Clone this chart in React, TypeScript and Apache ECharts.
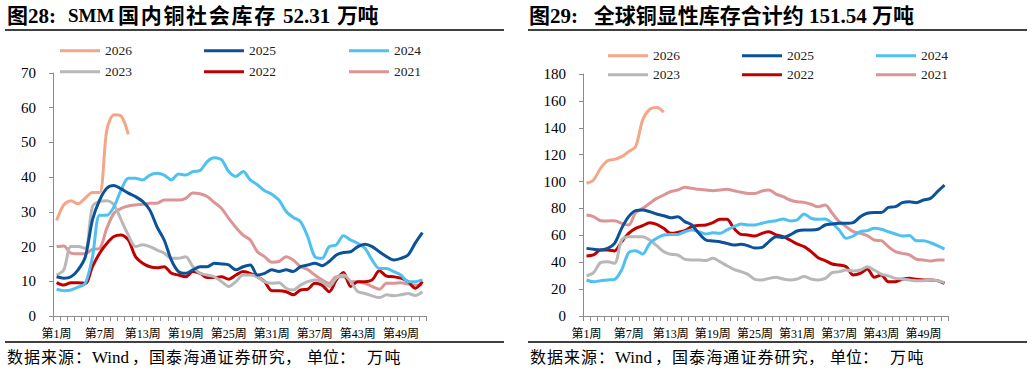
import React, { useEffect, useRef } from "react";
import * as echarts from "echarts";

const weeks: string[] = Array.from({ length: 52 }, (_, i) => `第${i + 1}周`);
const years = ["2026", "2025", "2024", "2023", "2022", "2021"];
const colors = ["#F4A686", "#0B5299", "#4FC1F0", "#B8B8B8", "#C00000", "#DC9595"];

// SMM domestic copper social inventory (万吨)
const smm2026 = [27.5, 32, 33.2, 32.3, 34, 35.6, 35.6, 53.5, 58, 57.6, 52.31];
const smm2025 = [11.3, 10.9, 11.3, 13.3, 17, 27.7, 33.4, 36.8, 37.6, 36.6, 35.4, 34.4, 33, 30.5, 25.7, 21.9, 16.1, 12.8, 12.3, 13.3, 14.2, 14.2, 15.2, 15, 14.7, 13.3, 14.2, 14.7, 11.8, 12.3, 13.3, 12.8, 13.3, 12.8, 14.2, 14.7, 15.2, 14.5, 15.7, 17.6, 18.3, 18.5, 20, 20.7, 20, 18.5, 17.1, 16.1, 16.6, 17.6, 21, 24];
const smm2024 = [7.7, 7.3, 7.5, 8.3, 9.4, 17, 29, 29, 31.5, 36.3, 39.7, 39.7, 39.2, 40.6, 41.1, 40.6, 39.2, 40.9, 40.6, 41.6, 41.9, 44.5, 45.6, 45, 41.6, 40.2, 41.6, 39.2, 37.8, 36.1, 35.1, 33.4, 30.1, 28.4, 27.2, 22.9, 17.1, 16.6, 20, 20.5, 23.1, 21.9, 20.9, 19.5, 16.1, 13.7, 13.7, 12.8, 11.8, 9.9, 9.9, 10.4];
const smm2023 = [11.8, 13.3, 20, 20, 19.5, 31.5, 33, 33.2, 32, 27.7, 23.3, 20, 20.5, 20, 19, 18.1, 16.6, 16.6, 17.1, 14.2, 12.3, 11.8, 11.3, 9.9, 8.5, 9.9, 11.8, 11.8, 11.3, 9.9, 9.4, 9.6, 8, 7.5, 8.9, 9.9, 10.4, 9.9, 8.5, 10.9, 11.8, 9.9, 7, 6.5, 5.8, 5.3, 6.1, 5.8, 6.1, 6.5, 5.9, 7];
const smm2022 = [9.6, 8.9, 9.6, 9.6, 9.4, 14.2, 18.1, 20.9, 22.9, 23.3, 21.9, 17.1, 15.2, 14.2, 13.9, 14.2, 12.3, 11.8, 11.3, 12.8, 12.3, 11.1, 11.1, 11.3, 10.6, 11.8, 12.8, 12.3, 11.3, 9.9, 7.3, 7.3, 7, 6.1, 7.5, 7.7, 9.4, 8.9, 7, 10.4, 12.5, 8.5, 9.9, 9.9, 10.4, 13, 11.5, 11.3, 10.9, 9.9, 8, 9.9];
const smm2021 = [20, 20.2, 18.1, 17.9, 17.9, 19.2, 19.5, 25.3, 29.6, 31, 31.7, 32, 32.2, 32.5, 32.5, 33.4, 33.4, 33.4, 33.9, 35.4, 35.2, 34.4, 32.7, 31, 28.1, 25.5, 23.3, 21.9, 18.5, 17.1, 15.5, 15.7, 17.1, 16.1, 14.2, 13.4, 11.8, 10.4, 9.4, 11.3, 11.3, 9.9, 9.9, 9.4, 8.5, 7.7, 9.4, 9.4, 9.6, 9.2, 8.9, 8.9];

// Global visible copper inventory (万吨)
const glb2026 = [98.7, 101.2, 109.8, 115.5, 116.5, 118.5, 122.2, 126, 145.8, 153.7, 155, 151.54];
const glb2025 = [50.3, 49.6, 49.1, 50.3, 54, 65.2, 73.9, 78.4, 78.8, 77.6, 75.9, 74.6, 73.1, 73.9, 70.2, 67.7, 61.5, 56.5, 55.8, 55.3, 54, 52.8, 53.3, 52.3, 50.5, 51, 55.3, 59, 58.3, 60.3, 63.2, 64, 64, 64.5, 67.7, 68.4, 68.9, 68.9, 69.4, 73.9, 76.4, 76.9, 76.9, 80.8, 81.3, 84.3, 85, 84.3, 86.3, 87.5, 92.5, 97.4];
const glb2024 = [26.8, 25.5, 26.3, 26.8, 27.3, 34.2, 47.1, 48.6, 46.1, 54, 57.8, 60.3, 60.7, 60.7, 62.7, 64, 62.7, 61, 62, 61.5, 64, 66.5, 68.4, 67.7, 67.7, 69, 70.2, 70.9, 72.2, 70.7, 71.4, 75.9, 72.7, 71.9, 72.2, 68.9, 64, 57.8, 59.5, 62.7, 63.5, 65.2, 64.5, 62.7, 61, 59.5, 59.8, 56, 56, 54.5, 52.3, 49.8];
const glb2023 = [29.8, 32.2, 39.7, 40.4, 39.2, 56.5, 59, 59, 59, 56.5, 52.3, 47.9, 45.9, 45.4, 42.2, 41.7, 41.7, 41.2, 42.9, 40.4, 37.4, 34.7, 33, 31, 27.3, 26.8, 28, 28.8, 27.5, 26.8, 27.5, 29.3, 27.5, 26.8, 28, 32.2, 33, 34.2, 33.5, 34.2, 36.7, 34.2, 31.2, 29.8, 28, 27.5, 26.8, 26.3, 26.3, 26.8, 26.3, 24.8];
const glb2022 = [44.6, 45.4, 49.1, 49.1, 48.4, 55.3, 61.5, 65.2, 67.2, 69.4, 68.2, 65.2, 61.5, 62.2, 63.5, 66.5, 67.4, 67.7, 69.4, 71.9, 71.9, 65.2, 60.7, 60.3, 59.5, 61.5, 62.7, 60.3, 59, 56.5, 53.6, 51.6, 47.9, 43.4, 41.2, 38.7, 37.9, 36.7, 30.5, 31.7, 35, 28.8, 30.5, 25.5, 25.5, 27.3, 28, 27.3, 26.8, 26.8, 26.3, 24.3];
const glb2021 = [75.1, 73.9, 70.9, 70.7, 70.9, 68.9, 67.7, 76.9, 80.1, 83.8, 87.5, 90, 92.5, 93.7, 95.7, 95, 94.2, 93.7, 93.2, 93.7, 94.2, 93.2, 92, 91.2, 91.2, 93, 93.7, 90.7, 88.8, 86.3, 85, 84.5, 83.1, 81.3, 82.6, 76.4, 70.2, 66.5, 62.7, 61.5, 59.8, 56.5, 56, 51.6, 47.9, 46.6, 45.4, 42.2, 41.7, 40.9, 41.7, 41.7];

const smmSeries = [smm2026, smm2025, smm2024, smm2023, smm2022, smm2021];
const glbSeries = [glb2026, glb2025, glb2024, glb2023, glb2022, glb2021];

const FONT = "'Liberation Serif', 'Times New Roman', 'Noto Sans CJK SC', serif";

type Part = { t: string; w: number; split?: boolean; size?: number };

// left title: 图28:  SMM 国内铜社会库存 52.31 万吨
const title1Parts: Part[] = [
  { t: "图", w: 21 },
  { t: "28:", w: 40 },
  { t: "SMM", w: 50, size: 19 },
  { t: "国内铜社会库", w: 22.7, split: true },
  { t: "存", w: 28.8 },
  { t: "52.31", w: 54 },
  { t: "万吨", w: 20.5, split: true },
];
const title2 = "图29:   全球铜显性库存合计约 151.54 万吨";
// 数据来源：Wind，国泰海通证券研究，单位：万吨
const sourceParts: Part[] = [
  { t: "数据来源：", w: 17, split: true },
  { t: "Wind", w: 40, size: 17 },
  { t: "，", w: 17 },
  { t: "国泰海通证券研", w: 17.1, split: true },
  { t: "究", w: 16.3 },
  { t: "，", w: 22 },
  { t: "单位", w: 16, split: true },
  { t: "：", w: 28 },
  { t: "万吨", w: 17.5, split: true },
];

function buildRich(parts: Part[], prefix: string, fontSize: number, fontWeight: string) {
  const rich: Record<string, any> = {};
  let text = "";
  parts.forEach((p, i) => {
    const name = `${prefix}${i}`;
    rich[name] = {
      width: p.w,
      fontSize: p.size || fontSize,
      fontWeight,
      fontFamily: FONT,
      color: "#000",
      align: "left",
    };
    if (p.split) {
      for (const ch of p.t) text += `{${name}|${ch}}`;
    } else {
      text += `{${name}|${p.t}}`;
    }
  });
  return { text, rich };
}

export default function App() {
  const ref = useRef<HTMLDivElement>(null);
  useEffect(() => {
    if (!ref.current) return;
    const chart = echarts.init(ref.current, null, { renderer: "svg" });

    const grids = [
      { left: 53, right: 1032 - 426, top: 73, bottom: 59 },
      { left: 583, right: 1032 - 948, top: 74, bottom: 59 },
    ];

    const xAxes = grids.map((_, gi) => ({
      type: "category",
      gridIndex: gi,
      data: weeks,
      boundaryGap: true,
      axisLine: { lineStyle: { color: "#8C8C8C", width: 1 } },
      axisTick: { show: true, interval: 0, length: 5, lineStyle: { color: "#8C8C8C" } },
      axisLabel: {
        interval: 5,
        fontSize: 12,
        color: "#000",
        fontFamily: FONT,
        margin: 12,
      },
    }));

    const yAxes = [
      { max: 70, interval: 10 },
      { max: 180, interval: 20 },
    ].map((a, gi) => ({
      type: "value",
      gridIndex: gi,
      min: 0,
      max: a.max,
      interval: a.interval,
      splitLine: { show: false },
      axisLine: { show: true, lineStyle: { color: "#8C8C8C", width: 1 } },
      axisTick: { show: true, length: 4, lineStyle: { color: "#8C8C8C" } },
      axisLabel: { fontSize: 15, color: "#000", fontFamily: FONT, margin: 17 },
    }));

    const series: any[] = [];
    [smmSeries, glbSeries].forEach((group, gi) => {
      group.forEach((data, si) => {
        series.push({
          name: years[si],
          type: "line",
          xAxisIndex: gi,
          yAxisIndex: gi,
          data,
          smooth: 0.3,
          symbol: "none",
          lineStyle: { width: 3, color: colors[si] },
          itemStyle: { color: colors[si] },
          z: 10 - si,
        });
      });
    });

    const legendPos = [
      { xs: [60, 204, 349], ys: [52, 73] },
      { xs: [608, 742, 876], ys: [57, 76] },
    ];
    const legends: any[] = [];
    legendPos.forEach((lp) => {
      years.forEach((y, i) => {
        legends.push({
          data: [y],
          left: lp.xs[i % 3],
          top: lp.ys[Math.floor(i / 3)] - 8,
          padding: 0,
          icon: "rect",
          itemWidth: 40,
          itemHeight: 3,
          textStyle: { fontSize: 13.5, color: "#222", fontFamily: FONT },
          selectedMode: false,
        });
      });
    });

    const t1 = buildRich(title1Parts, "ta", 21, "bold");
    const src = buildRich(sourceParts, "sa", 16, "normal");

    const graphic: any[] = [];
    graphic.push({
      type: "text",
      left: 7,
      top: 5,
      style: { text: t1.text, rich: t1.rich, fill: "#000" },
    });
    graphic.push({
      type: "text",
      left: 529,
      top: 5,
      style: { text: title2, font: `bold 21px ${FONT}`, fill: "#000" },
    });
    [
      { x: 6, x2: 504 },
      { x: 529, x2: 1027 },
    ].forEach((p) => {
      graphic.push({
        type: "line",
        shape: { x1: p.x - 1, y1: 30, x2: p.x2, y2: 30 },
        style: { stroke: "#000", lineWidth: 1.5 },
      });
      graphic.push({
        type: "line",
        shape: { x1: p.x - 1, y1: 342, x2: p.x2, y2: 342 },
        style: { stroke: "#000", lineWidth: 1.5 },
      });
      graphic.push({
        type: "text",
        left: p.x + 1,
        top: 349,
        style: { text: src.text, rich: src.rich, fill: "#000" },
      });
    });

    chart.setOption({
      animation: false,
      backgroundColor: "#fff",
      grid: grids,
      xAxis: xAxes,
      yAxis: yAxes,
      legend: legends,
      series,
      graphic,
    });
    return () => chart.dispose();
  }, []);

  return (
    <div
      ref={ref}
      style={{ position: "fixed", left: 0, top: 0, width: 1032, height: 375 }}
    />
  );
}
